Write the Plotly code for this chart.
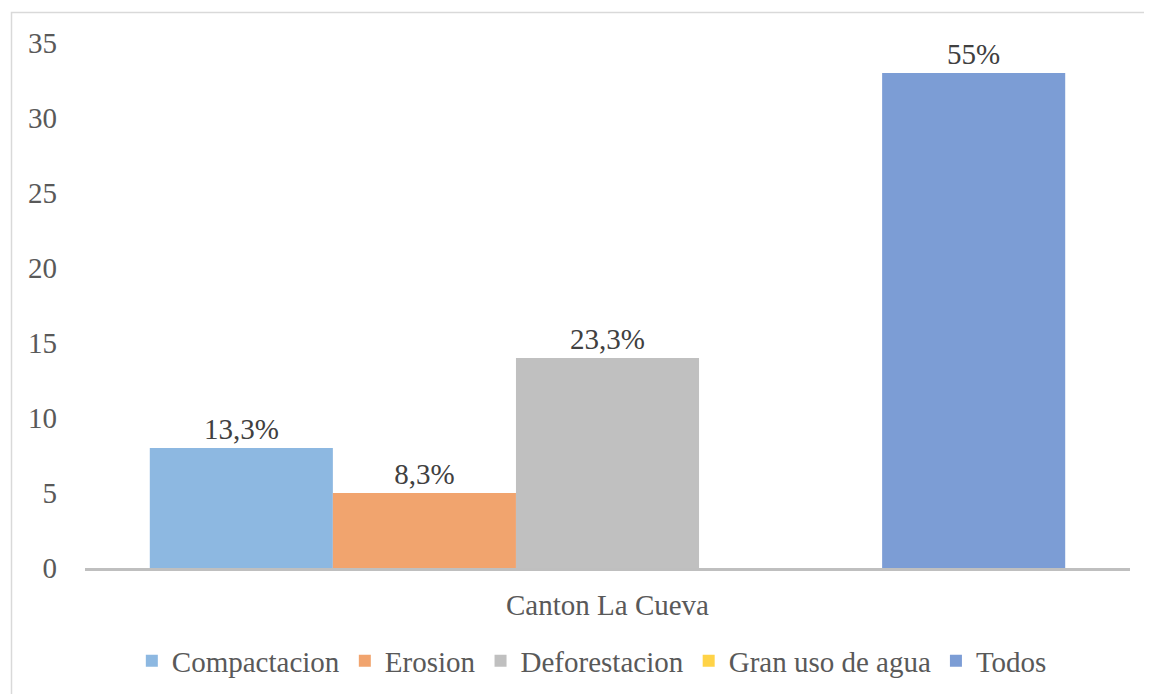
import plotly.graph_objects as go

category = ["Canton La Cueva"]
series_names = ["Compactacion", "Erosion", "Deforestacion", "Gran uso de agua", "Todos"]
series_values = [8, 5, 14, 0, 33]
series_labels = ["13,3%", "8,3%", "23,3%", "", "55%"]
series_colors = ["#8db8e1", "#f1a46e", "#c0c0c0", "#ffd347", "#7c9dd5"]
y_ticks = [0, 5, 10, 15, 20, 25, 30, 35]

font_family = "Times New Roman, Liberation Serif, DejaVu Serif, serif"
fsize = 29

fig = go.Figure()
for name, val, lab, col in zip(series_names, series_values, series_labels, series_colors):
    fig.add_trace(go.Bar(
        x=category,
        y=[val],
        name=name,
        marker=dict(color=col, line=dict(width=0)),
        text=[lab],
        textposition="outside",
        cliponaxis=False,
        textfont=dict(size=fsize, color="#404040", family=font_family),
    ))

# light frame around the whole chart
fig.add_shape(
    type="rect", xref="paper", yref="paper",
    x0=(11.5 - 85) / 1045, x1=(1170 - 85) / 1045,
    y0=(568 - 710) / 525, y1=(568 - 12.5) / 525,
    line=dict(color="#d9d9d9", width=1.5), fillcolor="rgba(0,0,0,0)",
    layer="below",
)

fig.update_layout(
    width=1144, height=686,
    paper_bgcolor="white", plot_bgcolor="white",
    barmode="group", bargap=0.124, bargroupgap=0,
    margin=dict(l=77, r=22, t=35, b=126, autoexpand=False),
    font=dict(family=font_family, size=fsize, color="#595959"),
    showlegend=True,
    legend=dict(
        orientation="h", x=0.485, xanchor="center",
        yref="container", y=1 - (661 - 8) / 686, yanchor="middle",
        font=dict(size=fsize, color="#595959", family=font_family),
        traceorder="normal",
    ),
    xaxis=dict(
        showgrid=False, showline=True, linecolor="#bfbfbf", linewidth=2.5,
        ticks="", ticklabelstandoff=9, zeroline=False, automargin=False,
        tickfont=dict(size=fsize, color="#595959", family=font_family),
    ),
    yaxis=dict(
        range=[0, 35], tickvals=y_ticks, showgrid=False, zeroline=False,
        showline=False, ticks="", ticklabelstandoff=27, automargin=False,
        tickfont=dict(size=fsize, color="#595959", family=font_family),
    ),
)

fig.write_html("out.html")
